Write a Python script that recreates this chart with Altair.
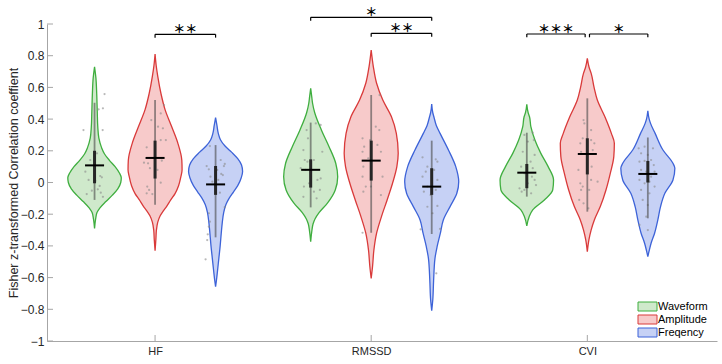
import json
import altair as alt
import pandas as pd

# ---------------- data ----------------
CATEGORIES = ["HF", "RMSSD", "CVI"]
SERIES = ["Waveform", "Amplitude", "Freqency"]
FILL_COLORS = ["#cfe9cb", "#f7caca", "#c6d1f5"]
EDGE_COLORS = ["#3fae3f", "#d93a3a", "#3d63d8"]
Y_TICKS = [-1, -0.8, -0.6, -0.4, -0.2, 0, 0.2, 0.4, 0.6, 0.8, 1]
Y_TITLE = "Fisher z-transformed Correlation coeffient"

# violin outlines: value levels and relative half-widths (0..1)
HF_WAVE_V = [0.73, 0.66, 0.56, 0.45, 0.35, 0.28, 0.22, 0.18, 0.14, 0.10, 0.06, 0.03, 0.0, -0.04, -0.08, -0.12, -0.16, -0.19, -0.23, -0.29]
HF_WAVE_W = [0, 0.05, 0.08, 0.10, 0.12, 0.16, 0.26, 0.37, 0.55, 0.76, 0.92, 0.99, 0.97, 0.86, 0.66, 0.42, 0.2, 0.09, 0.04, 0]
HF_AMP_V = [0.81, 0.74, 0.67, 0.56, 0.46, 0.35, 0.25, 0.14, 0.08, 0.04, -0.02, -0.07, -0.11, -0.15, -0.18, -0.21, -0.25, -0.30, -0.36, -0.43]
HF_AMP_W = [0, 0.04, 0.1, 0.22, 0.37, 0.62, 0.84, 0.99, 1.0, 0.96, 0.87, 0.74, 0.58, 0.43, 0.3, 0.19, 0.1, 0.05, 0.03, 0]
HF_FREQ_V = [0.41, 0.36, 0.31, 0.27, 0.23, 0.19, 0.15, 0.11, 0.07, 0.03, -0.02, -0.06, -0.10, -0.14, -0.19, -0.25, -0.32, -0.40, -0.48, -0.56, -0.62, -0.657]
HF_FREQ_W = [0, 0.05, 0.1, 0.18, 0.35, 0.6, 0.82, 0.96, 1.0, 0.95, 0.82, 0.66, 0.5, 0.38, 0.3, 0.25, 0.21, 0.17, 0.12, 0.07, 0.03, 0]

RM_WAVE_V = [0.594, 0.54, 0.50, 0.44, 0.33, 0.226, 0.12, 0.037, -0.047, -0.13, -0.19, -0.23, -0.26, -0.31, -0.373]
RM_WAVE_W = [0, 0.04, 0.07, 0.15, 0.4, 0.68, 0.93, 1.0, 0.91, 0.62, 0.31, 0.16, 0.09, 0.04, 0]
RM_AMP_V = [0.836, 0.73, 0.626, 0.52, 0.415, 0.31, 0.184, 0.10, -0.005, -0.11, -0.215, -0.32, -0.426, -0.53, -0.605]
RM_AMP_W = [0, 0.08, 0.2, 0.43, 0.75, 0.93, 1.0, 0.95, 0.79, 0.59, 0.38, 0.2, 0.1, 0.05, 0]
RM_FREQ_V = [0.495, 0.44, 0.415, 0.36, 0.31, 0.205, 0.10, 0.005, -0.068, -0.152, -0.236, -0.32, -0.405, -0.48, -0.62, -0.74, -0.809]
RM_FREQ_W = [0, 0.04, 0.08, 0.17, 0.31, 0.62, 0.89, 1.0, 0.93, 0.68, 0.43, 0.32, 0.2, 0.12, 0.07, 0.04, 0]

CVI_WAVE_V = [0.493, 0.44, 0.415, 0.352, 0.268, 0.184, 0.10, 0.016, -0.047, -0.11, -0.173, -0.215, -0.274]
CVI_WAVE_W = [0, 0.05, 0.1, 0.15, 0.3, 0.52, 0.79, 0.99, 0.96, 0.65, 0.22, 0.09, 0]
CVI_AMP_V = [0.783, 0.73, 0.69, 0.60, 0.52, 0.415, 0.31, 0.247, 0.163, 0.058, -0.047, -0.152, -0.236, -0.30, -0.36, -0.436]
CVI_AMP_W = [0, 0.06, 0.14, 0.25, 0.37, 0.65, 0.89, 1.0, 0.98, 0.85, 0.69, 0.48, 0.26, 0.14, 0.06, 0]
CVI_FREQ_V = [0.453, 0.40, 0.373, 0.31, 0.205, 0.121, 0.09, 0.016, -0.068, -0.152, -0.236, -0.32, -0.383, -0.43, -0.468]
CVI_FREQ_W = [0, 0.05, 0.1, 0.27, 0.56, 0.93, 1.0, 0.93, 0.63, 0.47, 0.37, 0.25, 0.12, 0.05, 0]

# summary lines per metric (rows) and series (columns)
WHISKER_HI = [[0.503, 0.52, 0.236], [0.378, 0.552, 0.264], [0.314, 0.531, 0.284]]
WHISKER_LO = [[-0.11, -0.14, -0.346], [-0.157, -0.317, -0.325], [-0.089, -0.184, -0.226]]
BOX_HI = [[0.2, 0.264, 0.104], [0.146, 0.264, 0.09], [0.117, 0.279, 0.136]]
BOX_LO = [[-0.005, 0.025, -0.078], [-0.032, 0.012, -0.078], [-0.036, 0.051, 0.0]]
MEANS = [[0.108, 0.155, -0.012], [0.08, 0.138, -0.026], [0.062, 0.18, 0.054]]

# individual observations: (value, jitter as fraction of violin half-width)
PTS_HF_WAVE = [(0.558, 0.37), (0.468, 0.31), (0.462, 0.15), (0.331, -0.41), (0.331, 0.30), (0.184, 0.09), (0.142, -0.16), (0.068, -0.34), (0.041, 0.21), (0.033, 0.27), (0.016, -0.22), (0.011, 0.03), (-0.022, 0.19), (-0.043, 0.12), (-0.052, -0.1), (-0.064, 0.23), (-0.073, -0.29), (-0.09, 0.31)]
PTS_HF_AMP = [(0.489, 0.33), (0.436, 0.21), (0.394, -0.14), (0.352, 0.11), (0.342, 0.29), (0.268, 0.21), (0.268, 0.4), (0.222, -0.31), (0.138, 0.25), (0.125, -0.41), (0.121, -0.26), (0.09, -0.19), (0.079, 0.09), (-0.001, 0.21), (-0.026, -0.29), (-0.047, -0.22), (-0.068, -0.31), (-0.073, -0.1)]
PTS_HF_FREQ = [(0.23, -0.21), (0.142, 0.19), (0.117, 0.34), (0.104, -0.33), (0.104, 0.31), (0.083, -0.25), (0.079, 0.06), (0.054, 0.21), (0.047, 0.27), (0.037, -0.19), (0.016, 0.1), (0.005, -0.12), (-0.064, 0.16), (-0.156, 0.34), (-0.194, -0.25), (-0.247, -0.21), (-0.279, -0.25), (-0.327, -0.29), (-0.363, -0.31), (-0.485, -0.37)]
PTS_RM_WAVE = [(0.373, 0.19), (0.363, 0.37), (0.331, -0.15), (0.279, -0.1), (0.205, -0.27), (0.194, 0.43), (0.142, -0.22), (0.142, 0.12), (0.131, -0.12), (0.09, -0.37), (0.079, -0.19), (0.026, 0.37), (0.016, 0.25), (-0.005, -0.06), (-0.026, -0.25), (-0.047, 0.34), (-0.058, 0.12), (-0.09, -0.27), (-0.1, 0.22)]
PTS_RM_AMP = [(0.552, 0.31), (0.352, 0.17), (0.331, 0.3), (0.279, -0.32), (0.268, -0.04), (0.237, 0.23), (0.226, -0.26), (0.194, -0.32), (0.194, 0.36), (0.153, -0.11), (0.1, -0.29), (0.037, -0.32), (0.037, 0.42), (-0.026, -0.2), (-0.026, -0.01), (-0.058, -0.29), (-0.079, 0.36), (-0.317, -0.32)]
PTS_RM_FREQ = [(0.159, -0.34), (0.146, 0.15), (0.131, 0.21), (0.1, -0.16), (0.079, 0.09), (0.068, -0.22), (0.037, -0.34), (0.016, 0.21), (-0.026, -0.16), (-0.047, 0.15), (-0.058, -0.29), (-0.079, -0.04), (-0.148, 0.21), (-0.153, -0.16), (-0.194, 0.03), (-0.293, 0.31), (-0.295, -0.41), (-0.573, 0.17)]
PTS_CVI_WAVE = [(0.314, 0.22), (0.3, -0.09), (0.268, 0.26), (0.258, 0.04), (0.194, -0.15), (0.174, 0.29), (0.131, 0.14), (0.1, -0.21), (0.09, 0.22), (0.058, -0.09), (0.037, 0.19), (0.016, 0.29), (-0.005, 0.04), (-0.016, 0.34), (-0.037, -0.27), (-0.047, -0.09), (-0.058, -0.19), (-0.068, 0.16)]
PTS_CVI_AMP = [(0.394, -0.14), (0.373, -0.11), (0.331, 0.14), (0.279, -0.17), (0.268, 0.14), (0.247, -0.26), (0.247, 0.26), (0.205, 0.2), (0.194, -0.23), (0.1, 0.16), (0.079, -0.33), (0.016, 0.14), (0.005, 0.38), (-0.005, -0.26), (-0.026, -0.17), (-0.047, -0.23), (-0.047, 0.07), (-0.11, -0.3), (-0.131, -0.14), (-0.163, 0.04)]
PTS_CVI_FREQ = [(0.226, -0.12), (0.216, -0.34), (0.216, 0.19), (0.184, -0.25), (0.174, 0.0), (0.142, 0.12), (0.136, -0.12), (0.131, -0.31), (0.11, 0.22), (0.079, -0.25), (0.068, -0.06), (0.068, 0.25), (0.037, 0.12), (0.016, -0.31), (0.005, 0.06), (-0.005, -0.12), (-0.026, 0.25), (-0.047, -0.25), (-0.068, 0.06), (-0.11, -0.19), (-0.142, 0.0), (-0.216, -0.06), (-0.268, -0.31), (-0.3, 0.0)]

# significance brackets: (metric index, from series, to series, level, label)
BRACKETS = [
    (0, 1, 2, 0.935, "＊＊"),
    (1, 0, 2, 1.042, "＊"),
    (1, 1, 2, 0.941, "＊＊"),
    (2, 0, 1, 0.937, "＊＊＊"),
    (2, 1, 2, 0.937, "＊"),
]

# ---------------- layout / style constants ----------------
W, H = 670, 317
OFFSETS = [-0.28, 0.0, 0.28]
HALF = 0.125          # max half-width of a violin (x units)
MEAN_HALF = 0.044     # half length of the mean bar
DROP = 0.021          # bracket end drop (y units)
FONT = "Liberation Sans"

OUTLINES = [
    [(HF_WAVE_V, HF_WAVE_W), (HF_AMP_V, HF_AMP_W), (HF_FREQ_V, HF_FREQ_W)],
    [(RM_WAVE_V, RM_WAVE_W), (RM_AMP_V, RM_AMP_W), (RM_FREQ_V, RM_FREQ_W)],
    [(CVI_WAVE_V, CVI_WAVE_W), (CVI_AMP_V, CVI_AMP_W), (CVI_FREQ_V, CVI_FREQ_W)],
]
POINTS = [
    [PTS_HF_WAVE, PTS_HF_AMP, PTS_HF_FREQ],
    [PTS_RM_WAVE, PTS_RM_AMP, PTS_RM_FREQ],
    [PTS_CVI_WAVE, PTS_CVI_AMP, PTS_CVI_FREQ],
]


def center(g, s):
    return g + 1 + OFFSETS[s]


vrows, prows, srows = [], [], []
for g in range(3):
    for s in range(3):
        c = center(g, s)
        vid = f"{g}-{s}"
        vs, ws = OUTLINES[g][s]
        for v, w in zip(vs, ws):
            vrows.append(dict(vid=vid, series=SERIES[s], v=v, xl=c - HALF * w, xr=c + HALF * w))
        for v, j in POINTS[g][s]:
            prows.append(dict(x=c + HALF * j, v=v))
        srows.append(dict(xc=c, lo=WHISKER_LO[g][s], hi=WHISKER_HI[g][s],
                          qlo=BOX_LO[g][s], qhi=BOX_HI[g][s], mean=MEANS[g][s],
                          ml=c - MEAN_HALF, mr=c + MEAN_HALF))
vdf = pd.DataFrame(vrows)
pdf = pd.DataFrame(prows)
sdf = pd.DataFrame(srows)

brows = []
for g, a, b, lvl, lab in BRACKETS:
    xa = center(g, a)
    xb = center(g, b)
    if g == 2:
        if a == 1:
            xa += 0.01
        if b == 1:
            xb -= 0.01
    brows.append(dict(xa=xa, xb=xb, mid=(xa + xb) / 2, lvl=lvl, low=lvl - DROP, label=lab))
bdf = pd.DataFrame(brows)

xscale = alt.Scale(domain=[0.5, 3.6], nice=False, zero=False)
yscale = alt.Scale(domain=[-1, 1], nice=False, zero=False)

label_expr = f"{json.dumps(CATEGORIES)}[round(datum.value) - 1]"
xaxis = alt.Axis(values=[1, 2, 3], labelExpr=label_expr, title=None, grid=False, ticks=False,
                 domainColor="#a6a6a6", labelFont=FONT, labelFontSize=11, labelColor="#262626",
                 labelPadding=4)
yaxis = alt.Axis(values=Y_TICKS, format="~g", title=Y_TITLE, grid=False, ticks=False,
                 labelOverlap=False, labelBound=False,
                 domainColor="#a6a6a6", labelFont=FONT, labelFontSize=12, labelColor="#262626",
                 labelPadding=3, titleFont=FONT, titleFontSize=12.5, titleFontWeight="normal",
                 titleColor="#262626", titleX=-34, titleY=H / 2, titleAngle=270,
                 titleAlign="center", titleBaseline="middle")

legend = alt.Legend(title=None, orient="none", legendX=595, legendY=277,
                    symbolType="M-1.9,-0.9H1.9V0.9H-1.9Z", symbolSize=100, symbolStrokeWidth=1,
                    symbolOpacity=1, labelFont=FONT, labelFontSize=11, labelColor="#000000",
                    labelOffset=5, rowPadding=0, padding=0)


def X(field):
    return alt.X(field, scale=xscale, axis=xaxis, title=None)


def Y(field):
    return alt.Y(field, scale=yscale, axis=yaxis, title=Y_TITLE)


area = alt.Chart(vdf).mark_area(orient="horizontal", interpolate="monotone",
                                strokeWidth=1.3, opacity=1).encode(
    y=Y("v:Q"),
    x=X("xl:Q"),
    x2="xr:Q",
    color=alt.Color("series:N", scale=alt.Scale(domain=SERIES, range=FILL_COLORS), legend=legend),
    stroke=alt.Stroke("series:N", scale=alt.Scale(domain=SERIES, range=EDGE_COLORS), legend=legend),
    detail="vid:N",
)

pts = alt.Chart(pdf).mark_circle(size=5, color="#8a8a8a", opacity=0.6).encode(
    x=X("x:Q"), y=Y("v:Q"))

whisk = alt.Chart(sdf).mark_rule(color="#4a4a4a", strokeWidth=1.8, opacity=0.6).encode(
    x=X("xc:Q"), y=Y("lo:Q"), y2="hi:Q")
box = alt.Chart(sdf).mark_rule(color="#262626", strokeWidth=3).encode(
    x=X("xc:Q"), y=Y("qlo:Q"), y2="qhi:Q")
meanbar = alt.Chart(sdf).mark_rule(color="#000000", strokeWidth=2).encode(
    x=X("ml:Q"), x2="mr:Q", y=Y("mean:Q"))

ytick_df = pd.DataFrame({"t": Y_TICKS})
xtick_df = pd.DataFrame({"c": [1, 2, 3]})
yticks = alt.Chart(ytick_df).mark_rule(color="#a6a6a6", strokeWidth=1).encode(
    y=Y("t:Q"), x=alt.value(0), x2=alt.value(6))
xticks = alt.Chart(xtick_df).mark_rule(color="#a6a6a6", strokeWidth=1).encode(
    x=X("c:Q"), y=alt.value(H), y2=alt.value(H - 6))

bh = alt.Chart(bdf).mark_rule(color="#000000", strokeWidth=1.2).encode(
    x=X("xa:Q"), x2="xb:Q", y=Y("lvl:Q"))
bl = alt.Chart(bdf).mark_rule(color="#000000", strokeWidth=1.2).encode(
    x=X("xa:Q"), y=Y("lvl:Q"), y2="low:Q")
br = alt.Chart(bdf).mark_rule(color="#000000", strokeWidth=1.2).encode(
    x=X("xb:Q"), y=Y("lvl:Q"), y2="low:Q")
btxt = alt.Chart(bdf).mark_text(font="Noto Sans CJK JP", fontSize=12, fontWeight="bold",
                                color="#000000", baseline="alphabetic", align="center").encode(
    x=X("mid:Q"), y=Y("lvl:Q"), text="label:N")

chart = alt.layer(area, pts, whisk, box, meanbar, yticks, xticks, bh, bl, br, btxt).properties(
    width=W, height=H,
    autosize=alt.AutoSizeParams(type="none"),
    padding={"left": 47, "top": 24, "right": 5, "bottom": 23},
).configure_view(stroke=None).configure_axisY(labelOverlap=False)

chart.save("out.html", embed_options={"renderer": "svg", "actions": False})
